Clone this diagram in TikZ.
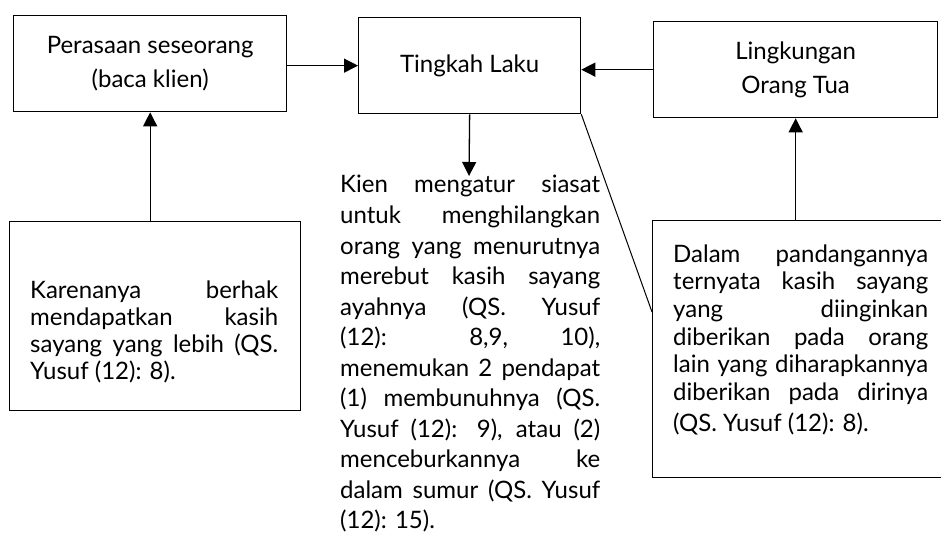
\documentclass[tikz,border=0pt]{standalone}
\usepackage{fontspec}
\setmainfont{Lato}
\usetikzlibrary{arrows.meta}
\newcommand{\jl}[2]{\makebox[#1][s]{#2}}
\begin{document}
\begin{tikzpicture}[x=1pt,y=-1pt,
  box/.style={draw, line width=1.3pt, anchor=north west, inner sep=0pt, align=center,
    font=\fontsize{24}{34}\selectfont},
  para/.style={anchor=base west, inner sep=0pt},
  arr/.style={-{Triangle[length=14pt,width=14pt]}, line width=1.3pt},
  thin/.style={line width=1pt}]
\useasboundingbox (0,0) rectangle (941,540);
\clip (0,0) rectangle (941,540);

\node[box, minimum width=273pt, minimum height=96pt] (feel) at (13,15)
  {Perasaan seseorang\\(baca klien)};
\node[box, minimum width=222pt, minimum height=96pt] (tl) at (358,17)
  {Tingkah Laku};
\node[box, minimum width=284pt, minimum height=96pt] (lk) at (653,21)
  {Lingkungan\\Orang Tua};
\node[box, minimum width=291pt, minimum height=189pt] (lbox) at (9,221) {};
\node[box, minimum width=300pt, minimum height=257pt] (rbox) at (652,220) {};

\node[para] (ltext) at (30,298) {\parbox[t]{248pt}{\fontsize{24}{27.3}\selectfont
  \jl{248pt}{Karenanya berhak}\\
  \jl{248pt}{mendapatkan kasih}\\
  \jl{248pt}{sayang yang lebih (QS.}\\
  Yusuf (12): 8).}};

\node[para] (mtext) at (340,193) {\parbox[t]{260pt}{\fontsize{24}{30.5}\selectfont
  \jl{260pt}{Kien mengatur siasat}\\
  \jl{260pt}{untuk menghilangkan}\\
  \jl{260pt}{orang yang menurutnya}\\
  \jl{260pt}{merebut kasih sayang}\\
  \jl{260pt}{ayahnya (QS. Yusuf}\\
  \jl{260pt}{(12): 8,9, 10),}\\
  \jl{260pt}{menemukan 2 pendapat}\\
  \jl{260pt}{(1) membunuhnya (QS.}\\
  \jl{260pt}{Yusuf (12): 9), atau (2)}\\
  \jl{260pt}{menceburkannya ke}\\
  \jl{260pt}{dalam sumur (QS. Yusuf}\\
  (12): 15).}};

\node[para] (rtext) at (673,262) {\parbox[t]{255pt}{\fontsize{24}{27.7}\selectfont
  \jl{255pt}{Dalam pandangannya}\\
  \jl{255pt}{ternyata kasih sayang}\\
  \jl{255pt}{yang diinginkan}\\
  \jl{255pt}{diberikan pada orang}\\
  \jl{255pt}{lain yang diharapkannya}\\
  \jl{255pt}{diberikan pada dirinya}\\[3pt]
  (QS. Yusuf (12): 8).}};

\coordinate (midtop) at (469,176);
\coordinate (diagend) at (652,312);

\draw[arr] (feel.east |- tl.west) -- (tl.west);
\draw[arr] (lk.west) -- (lk.west -| tl.east);
\draw[arr] (lbox.north -| feel.south) -- (feel.south);
\draw[arr] (rbox.north -| lk.south) -- (lk.south);
\draw[arr] (tl.south) -- (midtop);
\draw[thin] (tl.south east) -- (diagend);
\end{tikzpicture}
\end{document}
